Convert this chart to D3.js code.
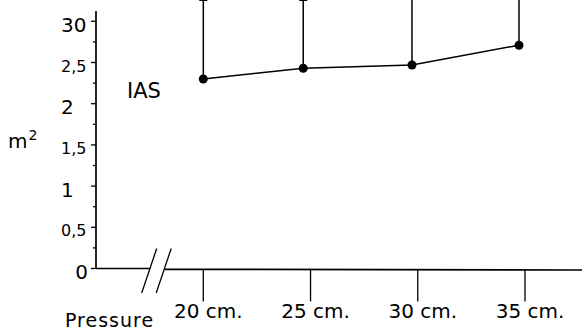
<!DOCTYPE html>
<html>
<head>
<meta charset="utf-8">
<script src="https://cdn.jsdelivr.net/npm/d3@7"></script>
<style>
  body { margin: 0; background: #fff; }
  svg { display: block; font-family: "DejaVu Sans", sans-serif; }
  .line { fill: none; stroke: #000; stroke-width: 1.5; }
  .axis { stroke: #000; stroke-width: 1.7; fill: none; }
  .tick { stroke: #000; stroke-width: 1.3; }
</style>
</head>
<body>
<svg width="582" height="331"></svg>
<script>
// pressure (cm) where each measurement was plotted, as drawn
const pressures = [20, 24.66, 29.73, 34.72];
// IAS value (m2) and upper end of its error bar
const iasValues = [2.30, 2.43, 2.47, 2.71];
const iasUpper = [3.255, 3.255, 3.35, 3.35];

const xTicks = [20, 25, 30, 35];
const xTickLabels = ["20 cm.", "25 cm.", "30 cm.", "35 cm."];
const yTicks = [0, 0.5, 1, 1.5, 2, 2.5, 3];
const yTickLabels = ["0", "0,5", "1", "1,5", "2", "2,5", "30"];
const yMinorTicks = [0.25, 0.75, 1.25, 1.75, 2.25, 2.75];

const svg = d3.select("svg");

const x = d3.scaleLinear().domain([20, 35]).range([203.3, 525]);
const y = d3.scaleLinear().domain([0, 3]).range([268.5, 21.3]);

const axisX = 96;
const y0 = y(0);

// y axis line
svg.append("line").attr("class", "axis")
  .attr("x1", axisX).attr("x2", axisX)
  .attr("y1", 11).attr("y2", y0);

// major and minor y ticks (left side)
svg.selectAll(".ymaj").data(yTicks).enter().append("line")
  .attr("class", "tick")
  .attr("x1", axisX - 5).attr("x2", axisX)
  .attr("y1", d => y(d)).attr("y2", d => y(d));
svg.selectAll(".ymin").data(yMinorTicks).enter().append("line")
  .attr("class", "tick")
  .attr("x1", axisX - 3).attr("x2", axisX)
  .attr("y1", d => y(d)).attr("y2", d => y(d));

// y tick labels: integers big, halves small
svg.selectAll(".ylab").data(yTicks).enter().append("text")
  .attr("x", d => d === 0 ? 88 : 61)
  .attr("y", d => y(d) + (Number.isInteger(d) ? 10.5 : 9))
  .attr("text-anchor", d => d === 0 ? "end" : "start")
  .attr("font-size", d => Number.isInteger(d) ? 20 : 16)
  .text((d, i) => yTickLabels[i]);

// x axis with break
const breakAt = 150;
svg.append("line").attr("class", "axis")
  .attr("x1", axisX).attr("x2", breakAt)
  .attr("y1", y0).attr("y2", y0);
svg.append("line").attr("class", "axis")
  .attr("x1", breakAt + 15).attr("x2", 582)
  .attr("y1", y0 + 0.8).attr("y2", y0 + 1.5);
[0, 14.5].forEach(off => {
  svg.append("line").attr("class", "tick")
    .attr("x1", breakAt - 8.3 + off).attr("y1", y0 + 24.5)
    .attr("x2", breakAt + 6.7 + off).attr("y2", y0 - 20);
});

// x ticks hang below the axis
svg.selectAll(".xt").data(xTicks).enter().append("line")
  .attr("class", "tick")
  .attr("x1", d => x(d)).attr("x2", d => x(d))
  .attr("y1", y0 + 1.5).attr("y2", y0 + 33);
svg.selectAll(".xl").data(xTicks).enter().append("text")
  .attr("x", d => x(d) + 5)
  .attr("y", 317.5)
  .attr("text-anchor", "middle")
  .attr("font-size", 20)
  .text((d, i) => xTickLabels[i]);

// error bars going up past the top
svg.selectAll(".err").data(pressures).enter().append("line")
  .attr("class", "line")
  .attr("x1", d => x(d)).attr("x2", d => x(d))
  .attr("y1", (d, i) => y(iasValues[i]))
  .attr("y2", (d, i) => y(iasUpper[i]));
svg.selectAll(".cap").data(pressures).enter().append("line")
  .attr("class", "line")
  .attr("x1", d => x(d) - 4).attr("x2", d => x(d) + 4)
  .attr("y1", (d, i) => y(iasUpper[i]))
  .attr("y2", (d, i) => y(iasUpper[i]));

// data line + points
const line = d3.line()
  .x((d, i) => x(pressures[i]))
  .y(d => y(d));
svg.append("path").datum(iasValues).attr("class", "line").attr("d", line);
svg.selectAll(".pt").data(iasValues).enter().append("circle")
  .attr("cx", (d, i) => x(pressures[i]))
  .attr("cy", d => y(d))
  .attr("r", 4.5)
  .attr("fill", "#000");

// labels
svg.append("text").attr("x", 127).attr("y", 98)
  .attr("font-size", 21).text("IAS");

const unit = svg.append("text").attr("x", 8).attr("y", 148).attr("font-size", 20);
unit.append("tspan").text("m");
unit.append("tspan").attr("font-size", 14).attr("dy", -8).attr("dx", 1).text("2");

svg.append("text").attr("x", 65).attr("y", 327)
  .attr("font-size", 19).attr("letter-spacing", 1).text("Pressure");
</script>
</body>
</html>
